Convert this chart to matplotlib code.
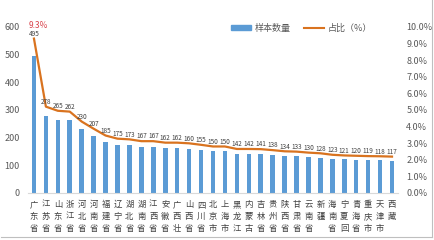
import matplotlib
matplotlib.use("Agg")
import matplotlib.pyplot as plt
from matplotlib.lines import Line2D
from matplotlib.patches import Patch

plt.rcParams['font.family'] = ['Noto Sans CJK SC', 'DejaVu Sans']

provinces = ["广东省", "江苏省", "山东省", "浙江省", "河北省", "河南省", "福建省", "辽宁省",
             "湖北省", "湖南省", "江西省", "安徽省", "广西壮", "山西省", "四川省", "北京市",
             "上海市", "黑龙江", "内蒙古", "吉林省", "贵州省", "陕西省", "甘肃省", "云南省",
             "新疆", "海南省", "宁夏回", "青海省", "重庆市", "天津市", "西藏"]
counts = [495, 278, 265, 262, 230, 207, 185, 175, 173, 167, 167, 162, 162, 160, 155, 150,
          150, 142, 142, 141, 138, 134, 133, 130, 128, 123, 121, 120, 119, 118, 117]
share_pct = [9.3, 5.20, 4.95, 4.90, 4.30, 3.87, 3.46, 3.27, 3.23, 3.12, 3.12, 3.03, 3.03,
             2.99, 2.90, 2.80, 2.80, 2.65, 2.65, 2.64, 2.58, 2.51, 2.49, 2.43, 2.39, 2.30,
             2.26, 2.24, 2.22, 2.21, 2.19]
y_left_ticks = [0, 100, 200, 300, 400, 500, 600]
y_right_ticks = [0, 1, 2, 3, 4, 5, 6, 7, 8, 9, 10]

bar_color = '#5B9BD5'
line_color = '#D9731F'
text_color = '#595959'

fig = plt.figure(figsize=(4.34, 2.40), dpi=100)
ax = fig.add_axes([0.0645, 0.196, 0.8525, 0.6917])
x = list(range(len(provinces)))
ax.bar(x, counts, width=0.38, color=bar_color, zorder=2)
ax.set_xlim(-0.5, len(provinces) - 0.5)
ax.set_ylim(0, 600)
ax.set_yticks(y_left_ticks)
ax.tick_params(axis='y', labelsize=6.5, colors=text_color, length=0, pad=6)
ax.set_xticks(x)
ax.set_xticklabels(['\n'.join(p) for p in provinces], fontsize=6, color='#404040',
                   linespacing=1.45, va='top')
ax.tick_params(axis='x', length=0, pad=5)
for s in ['top', 'right', 'left']:
    ax.spines[s].set_visible(False)
ax.spines['bottom'].set_color('#D9D9D9')
ax.spines['bottom'].set_linewidth(0.8)

ax2 = ax.twinx()
ax2.plot(x, share_pct, color=line_color, linewidth=1.6, zorder=3)
ax2.set_ylim(0, 10)
ax2.set_yticks(y_right_ticks)
ax2.set_yticklabels([f"{v:.1f}%" for v in y_right_ticks])
ax2.tick_params(axis='y', labelsize=6.5, colors=text_color, length=0, pad=6)
for s in ['top', 'right', 'left', 'bottom']:
    ax2.spines[s].set_visible(False)

for xi, c, p in zip(x, counts, share_pct):
    ax2.annotate(str(c), (xi, p), xytext=(0, 0.5), textcoords='offset points',
                 ha='center', va='bottom', fontsize=4.6, color='#404040', zorder=4)
ax2.annotate(f"{share_pct[0]:.1f}%", (x[0], share_pct[0]), xytext=(3, 6),
             textcoords='offset points', ha='center', va='bottom', fontsize=6,
             color='#D9434B', zorder=4)

handles = [Patch(color=bar_color), Line2D([0], [0], color=line_color, linewidth=1.5)]
fig.legend(handles, ["样本数量", "占比（%）"], loc='center', bbox_to_anchor=(0.695, 0.883),
           ncol=2, frameon=False, fontsize=6.5, handlelength=2.2, handleheight=0.5,
           columnspacing=1.5, handletextpad=0.4, labelcolor=text_color)

fig.add_artist(Line2D([0.002, 0.996], [0.012, 0.012], color='#BFBFBF', linewidth=0.8,
                      transform=fig.transFigure))
fig.add_artist(Line2D([0.996, 0.996], [0.012, 1.0], color='#BFBFBF', linewidth=0.8,
                      transform=fig.transFigure))

fig.savefig("out.png", dpi=100)
